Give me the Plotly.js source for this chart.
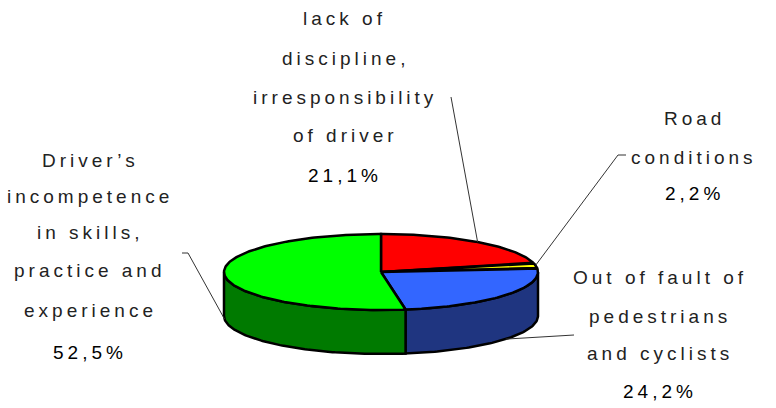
<!DOCTYPE html>
<html>
<head>
<meta charset="utf-8">
<script src="https://cdn.plot.ly/plotly-3.0.1.min.js"></script>
<style>
html,body{margin:0;padding:0;background:#fff;}
#chart .annotation-text{letter-spacing:4px;}
</style>
</head>
<body>
<div id="chart" style="width:776px;height:408px;"></div>
<script>
// ---- data ----
const categories = [
  "lack of discipline, irresponsibility of driver",
  "Road conditions",
  "Out of fault of pedestrians and cyclists",
  "Driver’s incompetence in skills, practice and experience"
];
const values = [21.1, 2.2, 24.2, 52.5];
const labelLines = [
  ["lack of", "discipline,", "irresponsibility", "of driver"],
  ["Road", "conditions"],
  ["Out of fault of", "pedestrians", "and cyclists"],
  ["Driver’s", "incompetence", "in skills,", "practice and", "experience"]
];
const topColors = ["#FF0000", "#FFFF00", "#3366FF", "#00FF00"];
const sideColors = ["#990000", "#999900", "#1F3580", "#007A00"];

// ---- layout parameters (3D-ish pie geometry) ----
const cx = 381, cy = 272, rx = 157, ry = 38, depth = 44;
const labelPos = [
  {x: 345, y: [18, 58, 97, 135, 175]},
  {x: 694, y: [118, 157, 193]},
  {x: 660, y: [277, 316, 353, 391]},
  {x: 90,  y: [160, 196, 232, 270, 310, 352]}
];
const labelElbow = [
  [[451, 97]],
  [[626, 155], [618, 155]],
  [[574, 335]],
  [[182, 253], [188, 253]]
];

function pt(deg, dz) {
  const t = deg * Math.PI / 180;
  return [cx + rx * Math.sin(t), cy - ry * Math.cos(t) + (dz || 0)];
}
function arc(a, b, dz) {
  const pts = [];
  const n = Math.max(2, Math.ceil(Math.abs(b - a)));
  for (let i = 0; i <= n; i++) pts.push(pt(a + (b - a) * i / n, dz));
  return pts;
}

const total = values.reduce((s, v) => s + v, 0);
const starts = [], ends = [];
let cum = 0;
values.forEach(v => { starts.push(cum / total * 360); cum += v; ends.push(cum / total * 360); });

const traces = [];
// sides (front half, 90..270 deg clockwise from top)
values.forEach((v, i) => {
  const a = Math.max(starts[i], 90), b = Math.min(ends[i], 270);
  if (a >= b) return;
  const pts = arc(a, b, 0).concat(arc(b, a, depth));
  pts.push(pts[0]);
  traces.push({
    type: "scatter", mode: "lines", fill: "toself",
    x: pts.map(p => p[0]), y: pts.map(p => p[1]),
    fillcolor: sideColors[i], line: {color: "#000", width: 2.5},
    hoverinfo: "skip", showlegend: false
  });
});
// top faces
values.forEach((v, i) => {
  const pts = [[cx, cy]].concat(arc(starts[i], ends[i], 0));
  pts.push([cx, cy]);
  traces.push({
    type: "scatter", mode: "lines", fill: "toself",
    x: pts.map(p => p[0]), y: pts.map(p => p[1]),
    fillcolor: topColors[i], line: {color: "#000", width: 2.5},
    name: categories[i], text: categories[i] + ": " + v + "%",
    hoverinfo: "text", showlegend: false
  });
});
// leader lines
values.forEach((v, i) => {
  const mid = (starts[i] + ends[i]) / 2;
  const visibleSide = mid > 90 && mid < 270;
  const anchor = pt(mid, visibleSide ? depth : 0);
  const pts = [anchor].concat(labelElbow[i].slice().reverse());
  traces.push({
    type: "scatter", mode: "lines",
    x: pts.map(p => p[0]), y: pts.map(p => p[1]),
    line: {color: "#333", width: 1},
    hoverinfo: "skip", showlegend: false
  });
});

const annotations = [];
labelLines.forEach((lines, i) => {
  const pos = labelPos[i];
  const all = lines.concat([values[i].toFixed(1).replace(".", ",") + "%"]);
  all.forEach((t, j) => {
    const isPct = j === all.length - 1;
    annotations.push({
      x: pos.x, y: pos.y[j], xref: "x", yref: "y",
      text: t, showarrow: false, xanchor: "center", yanchor: "middle",
      font: {
        family: isPct ? "Liberation Sans Narrow, Arial Narrow, sans-serif" : "Liberation Sans Narrow, Arial Narrow, sans-serif",
        size: 19, color: isPct ? "#000" : "#222"
      }
    });
  });
});

const layout = {
  width: 776, height: 408,
  margin: {l: 0, r: 0, t: 0, b: 0},
  paper_bgcolor: "#fff", plot_bgcolor: "#fff",
  xaxis: {range: [0, 776], visible: false, fixedrange: true},
  yaxis: {range: [408, 0], visible: false, fixedrange: true},
  annotations: annotations,
  showlegend: false
};
Plotly.newPlot("chart", traces, layout, {displayModeBar: false, staticPlot: true});
</script>
</body>
</html>
